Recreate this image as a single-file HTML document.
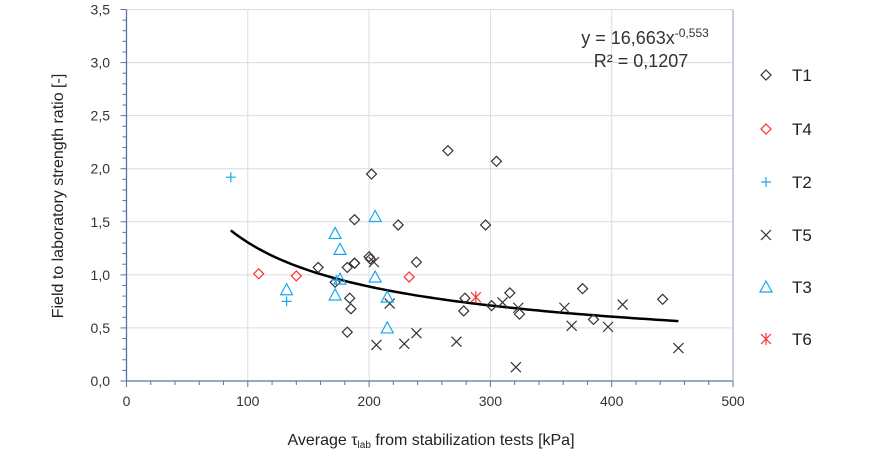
<!DOCTYPE html>
<html><head><meta charset="utf-8"><style>
html,body{margin:0;padding:0;background:#fff;width:881px;height:459px;overflow:hidden}
svg{font-family:"Liberation Sans",sans-serif}
</style></head><body>
<svg id="c" width="881" height="459"></svg>
<script>
const t1x=[158,188,202,265,305,188,224,296,200,201,188,182,239,172,184,185,182,279,278,301,316,324,376,385,442];
const t1y=[1.07,1.11,1.95,2.17,2.07,1.52,1.47,1.47,1.17,1.15,1.11,1.07,1.12,0.93,0.78,0.68,0.46,0.78,0.66,0.71,0.83,0.63,0.87,0.58,0.77];
const t4x=[109,140,233];
const t4y=[1.01,0.99,0.98];
const t2x=[86,132,173];
const t2y=[1.92,0.75,0.95];
const t5x=[204,217,206,229,239,272,310,323,321,361,367,397,409,455];
const t5y=[1.12,0.73,0.34,0.35,0.45,0.37,0.74,0.69,0.13,0.69,0.52,0.51,0.72,0.31];
const t3x=[132,172,176,176,172,205,205,215,215];
const t3y=[0.86,1.39,1.24,0.96,0.81,1.55,0.98,0.79,0.50];
const t6x=[288];
const t6y=[0.79];
const xTicks=[0,100,200,300,400,500];
const yTicks=["0,0","0,5","1,0","1,5","2,0","2,5","3,0","3,5"];
const trendA=16.663, trendB=-0.553, trendMin=86, trendMax=455;

const NS="http://www.w3.org/2000/svg";
const svg=document.getElementById('c');
const X0=126.5,XW=606.5,Y0=381,YH=371.5;
const sx=v=>X0+v/500*XW;
const sy=v=>Y0-v/3.5*YH;
function mk(t,a,p){const e=document.createElementNS(NS,t);for(const k in a)e.setAttribute(k,a[k]);(p||svg).appendChild(e);return e;}
const axisC="#5a73a0";
xTicks.forEach(v=>{if(v>0){const l=mk('line',{x1:sx(v),x2:sx(v),y1:sy(3.5),y2:Y0,stroke:'#dcdcdc'});

}});
yTicks.forEach((s,i)=>{const v=i*0.5;if(v>0){const l=mk('line',{x1:X0,x2:sx(500),y1:sy(v),y2:sy(v),stroke:'#dcdcdc'});

}});
const ax=mk('line',{x1:X0,x2:sx(500),y1:Y0,y2:Y0,stroke:axisC,'stroke-width':1.3});


const ay=mk('line',{x1:X0,x2:X0,y1:sy(3.5),y2:Y0,stroke:axisC,'stroke-width':1.3});


const ar=mk('line',{x1:sx(500),x2:sx(500),y1:sy(3.5),y2:Y0,stroke:'#a9b6cc','stroke-width':1.3});


for(let v=0;v<=500;v+=20){mk('line',{x1:sx(v),x2:sx(v),y1:Y0,y2:Y0+(v%100==0?6:4),stroke:axisC});}
for(let i=0;i<=35;i++){const v=i/10;mk('line',{x1:X0-(i%5==0?6:4),x2:X0,y1:sy(v),y2:sy(v),stroke:axisC});}
xTicks.forEach(v=>{const t=mk('text',{x:sx(v),y:406,'text-anchor':'middle','font-size':14,fill:'#333'});t.textContent=v;

});
yTicks.forEach((s,i)=>{const t=mk('text',{x:110,y:sy(i*0.5)+5,'text-anchor':'end','font-size':14,fill:'#333'});t.textContent=s;

});
const yt=mk('text',{x:0,y:0,transform:'translate(63,196) rotate(-90)','text-anchor':'middle','font-size':16,fill:'#222'});
yt.textContent='Field to laboratory strength ratio [-]';


const xt=mk('text',{x:431,y:445,'text-anchor':'middle','font-size':16,fill:'#222'});
xt.innerHTML='Average τ<tspan font-size="10" dy="3">lab</tspan><tspan dy="-3"> from stabilization tests [kPa]</tspan>';


let d='';for(let i=0;i<=80;i++){const v=trendMin+(trendMax-trendMin)*i/80;d+=(i?'L':'M')+sx(v).toFixed(1)+','+sy(trendA*Math.pow(v,trendB)).toFixed(1);}
const tr=mk('path',{d:d,fill:'none',stroke:'#000','stroke-width':2.5});


const eq=mk('text',{x:645,y:44,'text-anchor':'middle','font-size':18,fill:'#333'});
eq.innerHTML='y = 16,663x<tspan font-size="12" dy="-7">-0,553</tspan>';


const r2=mk('text',{x:641,y:67,'text-anchor':'middle','font-size':18,fill:'#333'});
r2.textContent='R² = 0,1207';


function marker(type,x,y,g){
 const c={T1:'#333',T4:'#ff3030',T2:'#1aa7ee',T5:'#333',T3:'#1aa7ee',T6:'#ff3030'}[type];
 const a={fill:'none',stroke:c,'stroke-width':1.2};
 let e;
 if(type=='T1'||type=='T4'){e=mk('path',Object.assign({d:`M${x},${y-5}L${x+5},${y}L${x},${y+5}L${x-5},${y}Z`},a),g);}
 else if(type=='T2'){e=mk('path',Object.assign({d:`M${x-5},${y}H${x+5}M${x},${y-5}V${y+5}`},a),g);}
 else if(type=='T5'){e=mk('path',Object.assign({d:`M${x-5},${y-5}L${x+5},${y+5}M${x-5},${y+5}L${x+5},${y-5}`},a),g);}
 else if(type=='T3'){e=mk('path',Object.assign({d:`M${x},${y-6}L${x+6},${y+5}L${x-6},${y+5}Z`},a),g);}
 else {e=mk('path',Object.assign({d:`M${x-5},${y-5}L${x+5},${y+5}M${x-5},${y+5}L${x+5},${y-5}M${x},${y-6}V${y+6}`},a),g);}
 return e;
}
const series=[['T1',t1x,t1y],['T4',t4x,t4y],['T2',t2x,t2y],['T5',t5x,t5y],['T3',t3x,t3y],['T6',t6x,t6y]];
series.forEach(([n,xs,ys])=>{
 const g=mk('g',{});
 
 
 xs.forEach((v,i)=>{const p=marker(n,sx(v),sy(ys[i]),g);
 
 });
});
const legY=[75,129,182,235,287,339];
series.forEach(([n],i)=>{
 const g=mk('g',{});
 
 
 marker(n,766,legY[i],g);
 const t=mk('text',{x:792,y:legY[i]+6,'font-size':17,fill:'#222'},g);t.textContent=n;
});
</script>
</body></html>
